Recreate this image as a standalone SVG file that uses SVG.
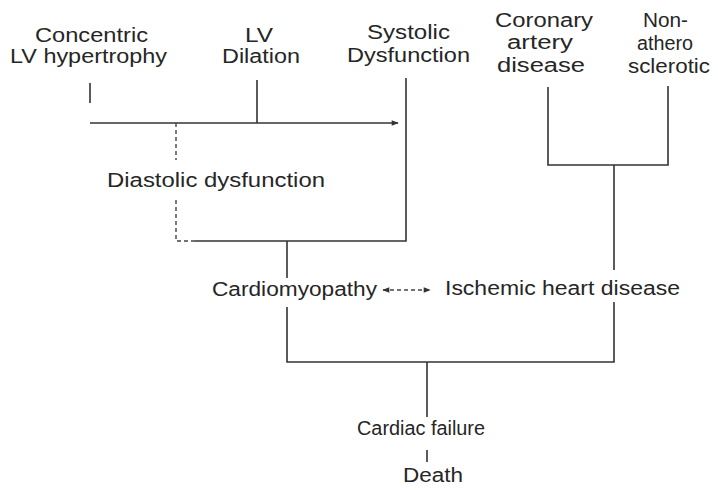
<svg xmlns="http://www.w3.org/2000/svg" width="718" height="490" viewBox="0 0 718 490">
<defs>
<style>
text{font-family:"Liberation Sans",Arial,sans-serif;font-size:20px;fill:#262626}
.ln{fill:none;stroke:#333;stroke-width:1.6}
.dash{fill:none;stroke:#444;stroke-width:1.4;stroke-dasharray:4 3}
</style>
<marker id="ah" viewBox="0 0 10 10" refX="9" refY="5" markerWidth="9" markerHeight="7" markerUnits="userSpaceOnUse" orient="auto">
<path d="M0 1 L10 5 L0 9 Z" fill="#333"/>
</marker>
<marker id="ah2" viewBox="0 0 10 10" refX="9" refY="5" markerWidth="8" markerHeight="7" markerUnits="userSpaceOnUse" orient="auto-start-reverse">
<path d="M0 1 L10 5 L0 9 Z" fill="#333"/>
</marker>
</defs>
<rect width="718" height="490" fill="#fff"/>
<g id="connectors">
<path class="ln" d="M90 83 V103"/>
<path class="ln" d="M257 80 V123"/>
<path class="ln" d="M90 123 H398" marker-end="url(#ah)"/>
<path class="ln" d="M406 78 V241 H195"/>
<path class="dash" d="M195 241 H176 V200"/>
<path class="dash" d="M176 123 V160"/>
<path class="ln" d="M287 241 V278"/>
<path class="ln" d="M287 307 V362 H614 V302"/>
<path class="ln" d="M548 87 V165 H668 V86"/>
<path class="ln" d="M614 165 V270"/>
<path class="dash" d="M383 290 H430" marker-start="url(#ah2)" marker-end="url(#ah2)"/>
<path class="ln" d="M427 362 V417"/>
<path class="ln" d="M427 450 V462"/>
</g>
<g id="concentric-lvh">
<text x="35" y="42" textLength="113" lengthAdjust="spacingAndGlyphs">Concentric</text>
<text x="10" y="63" textLength="157" lengthAdjust="spacingAndGlyphs">LV hypertrophy</text>
</g>
<g id="lv-dilation">
<text x="245" y="42" textLength="28" lengthAdjust="spacingAndGlyphs">LV</text>
<text x="222" y="63" textLength="78" lengthAdjust="spacingAndGlyphs">Dilation</text>
</g>
<g id="systolic-dysfunction">
<text x="367" y="39" textLength="83" lengthAdjust="spacingAndGlyphs">Systolic</text>
<text x="347" y="62" textLength="123" lengthAdjust="spacingAndGlyphs">Dysfunction</text>
</g>
<g id="coronary-artery-disease">
<text x="495" y="27" textLength="98" lengthAdjust="spacingAndGlyphs">Coronary</text>
<text x="507" y="49" textLength="66" lengthAdjust="spacingAndGlyphs">artery</text>
<text x="497" y="72" textLength="88" lengthAdjust="spacingAndGlyphs">disease</text>
</g>
<g id="non-atherosclerotic">
<text x="643" y="27" textLength="45" lengthAdjust="spacingAndGlyphs">Non-</text>
<text x="637" y="50" textLength="56" lengthAdjust="spacingAndGlyphs">athero</text>
<text x="628" y="73" textLength="82" lengthAdjust="spacingAndGlyphs">sclerotic</text>
</g>
<g id="diastolic-dysfunction">
<text x="107" y="187" textLength="218" lengthAdjust="spacingAndGlyphs">Diastolic dysfunction</text>
</g>
<g id="cardiomyopathy">
<text x="212" y="296" textLength="165" lengthAdjust="spacingAndGlyphs">Cardiomyopathy</text>
</g>
<g id="ischemic-heart-disease">
<text x="445" y="295" textLength="235" lengthAdjust="spacingAndGlyphs">Ischemic heart disease</text>
</g>
<g id="cardiac-failure">
<text x="357" y="435" textLength="128" lengthAdjust="spacingAndGlyphs">Cardiac failure</text>
</g>
<g id="death">
<text x="403" y="482" textLength="60" lengthAdjust="spacingAndGlyphs">Death</text>
</g>
</svg>
